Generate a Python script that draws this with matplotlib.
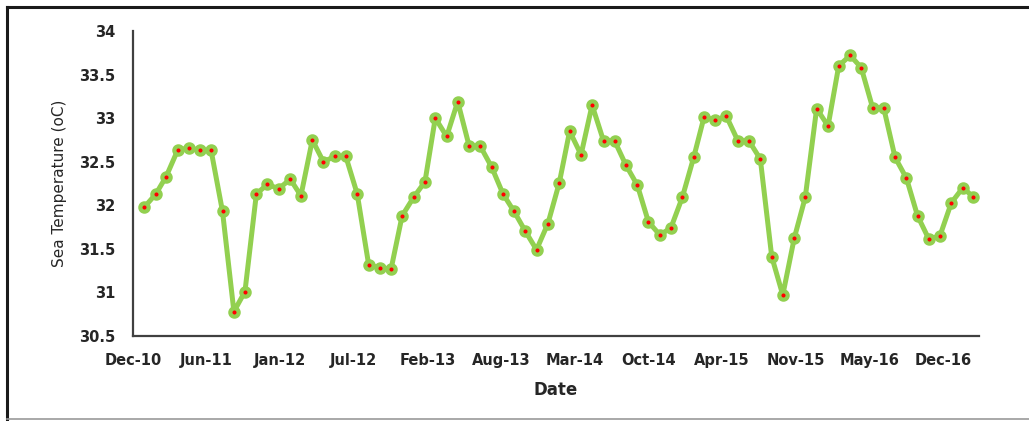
import numpy as np
import pandas as pd
import matplotlib.pyplot as plt
import matplotlib.dates as mdates
from matplotlib.lines import Line2D

# monthly sea temperature, Jan-2011 .. Mar-2017
dates = pd.date_range("2011-01-01", periods=75, freq="MS")
temps = [
    31.98, 32.13, 32.33, 32.63, 32.66, 32.63, 32.63, 31.93, 30.78, 31.01,
    32.13, 32.24, 32.19, 32.30, 32.11, 32.75, 32.50, 32.56, 32.56, 32.13,
    31.32, 31.28, 31.27, 31.88, 32.09, 32.27, 33.00, 32.79, 33.19, 32.68,
    32.68, 32.44, 32.13, 31.93, 31.70, 31.49, 31.79, 32.26, 32.85, 32.58,
    33.15, 32.74, 32.74, 32.46, 32.23, 31.81, 31.66, 31.74, 32.09, 32.55,
    33.01, 32.98, 33.02, 32.74, 32.74, 32.53, 31.41, 30.97, 31.62, 32.09,
    33.11, 32.91, 33.60, 33.72, 33.58, 33.12, 33.12, 32.55, 32.31, 31.88,
    31.61, 31.65, 32.03, 32.20, 32.10,
]
y_ticks = [30.5, 31, 31.5, 32, 32.5, 33, 33.5, 34]
y_tick_labels = ["30.5", "31", "31.5", "32", "32.5", "33", "33.5", "34"]

# excel-style date axis: a label every 200 days from Dec-2010
axis_start = pd.Timestamp("2010-12-01")
tick_dates = [axis_start + pd.Timedelta(days=200 * i) for i in range(12)]
axis_end = axis_start + pd.Timedelta(days=2298)

GREEN = "#92D050"

fig = plt.figure(figsize=(10.29, 4.21), dpi=100)
ax = fig.add_axes([0.1293, 0.2019, 0.8221, 0.7245])

ax.plot(dates, temps, color=GREEN, lw=3.6, marker="o", ms=6.0,
        mfc="red", mec=GREEN, mew=3.0, zorder=3)

ax.set_xlim(axis_start, axis_end)
ax.set_ylim(30.5, 34)
ax.set_yticks(y_ticks)
ax.set_yticklabels(y_tick_labels)
ax.set_xticks(tick_dates)
ax.xaxis.set_major_formatter(mdates.DateFormatter("%b-%y"))

for s in ["top", "right"]:
    ax.spines[s].set_visible(False)
for s in ["left", "bottom"]:
    ax.spines[s].set_color("#404040")
    ax.spines[s].set_linewidth(1.6)

ax.tick_params(axis="both", length=0, labelsize=10.5, colors="#262626")
ax.tick_params(axis="y", pad=13)
ax.tick_params(axis="x", pad=12)
for lab in ax.get_xticklabels() + ax.get_yticklabels():
    lab.set_fontweight("bold")

ax.set_ylabel("Sea Temperature (oC)", fontsize=11, color="#262626")
ax.set_xlabel("Date", fontsize=12, fontweight="bold", color="#262626")
ax.yaxis.set_label_coords(-0.078, 0.5)
ax.xaxis.set_label_coords(0.5, -0.147)

# outer frame of the picture
fig.add_artist(Line2D([0.0068, 1.0], [1 - 7 / 421, 1 - 7 / 421], color="#1a1a1a", lw=2.2))
fig.add_artist(Line2D([0.0068, 0.0068], [1 - 7 / 421, 1 - 419 / 421], color="#1a1a1a", lw=2.2))
fig.add_artist(Line2D([0.0068, 1.0], [1 - 419 / 421, 1 - 419 / 421], color="#9a9a9a", lw=1.2))

fig.savefig("out.png", dpi=100)
